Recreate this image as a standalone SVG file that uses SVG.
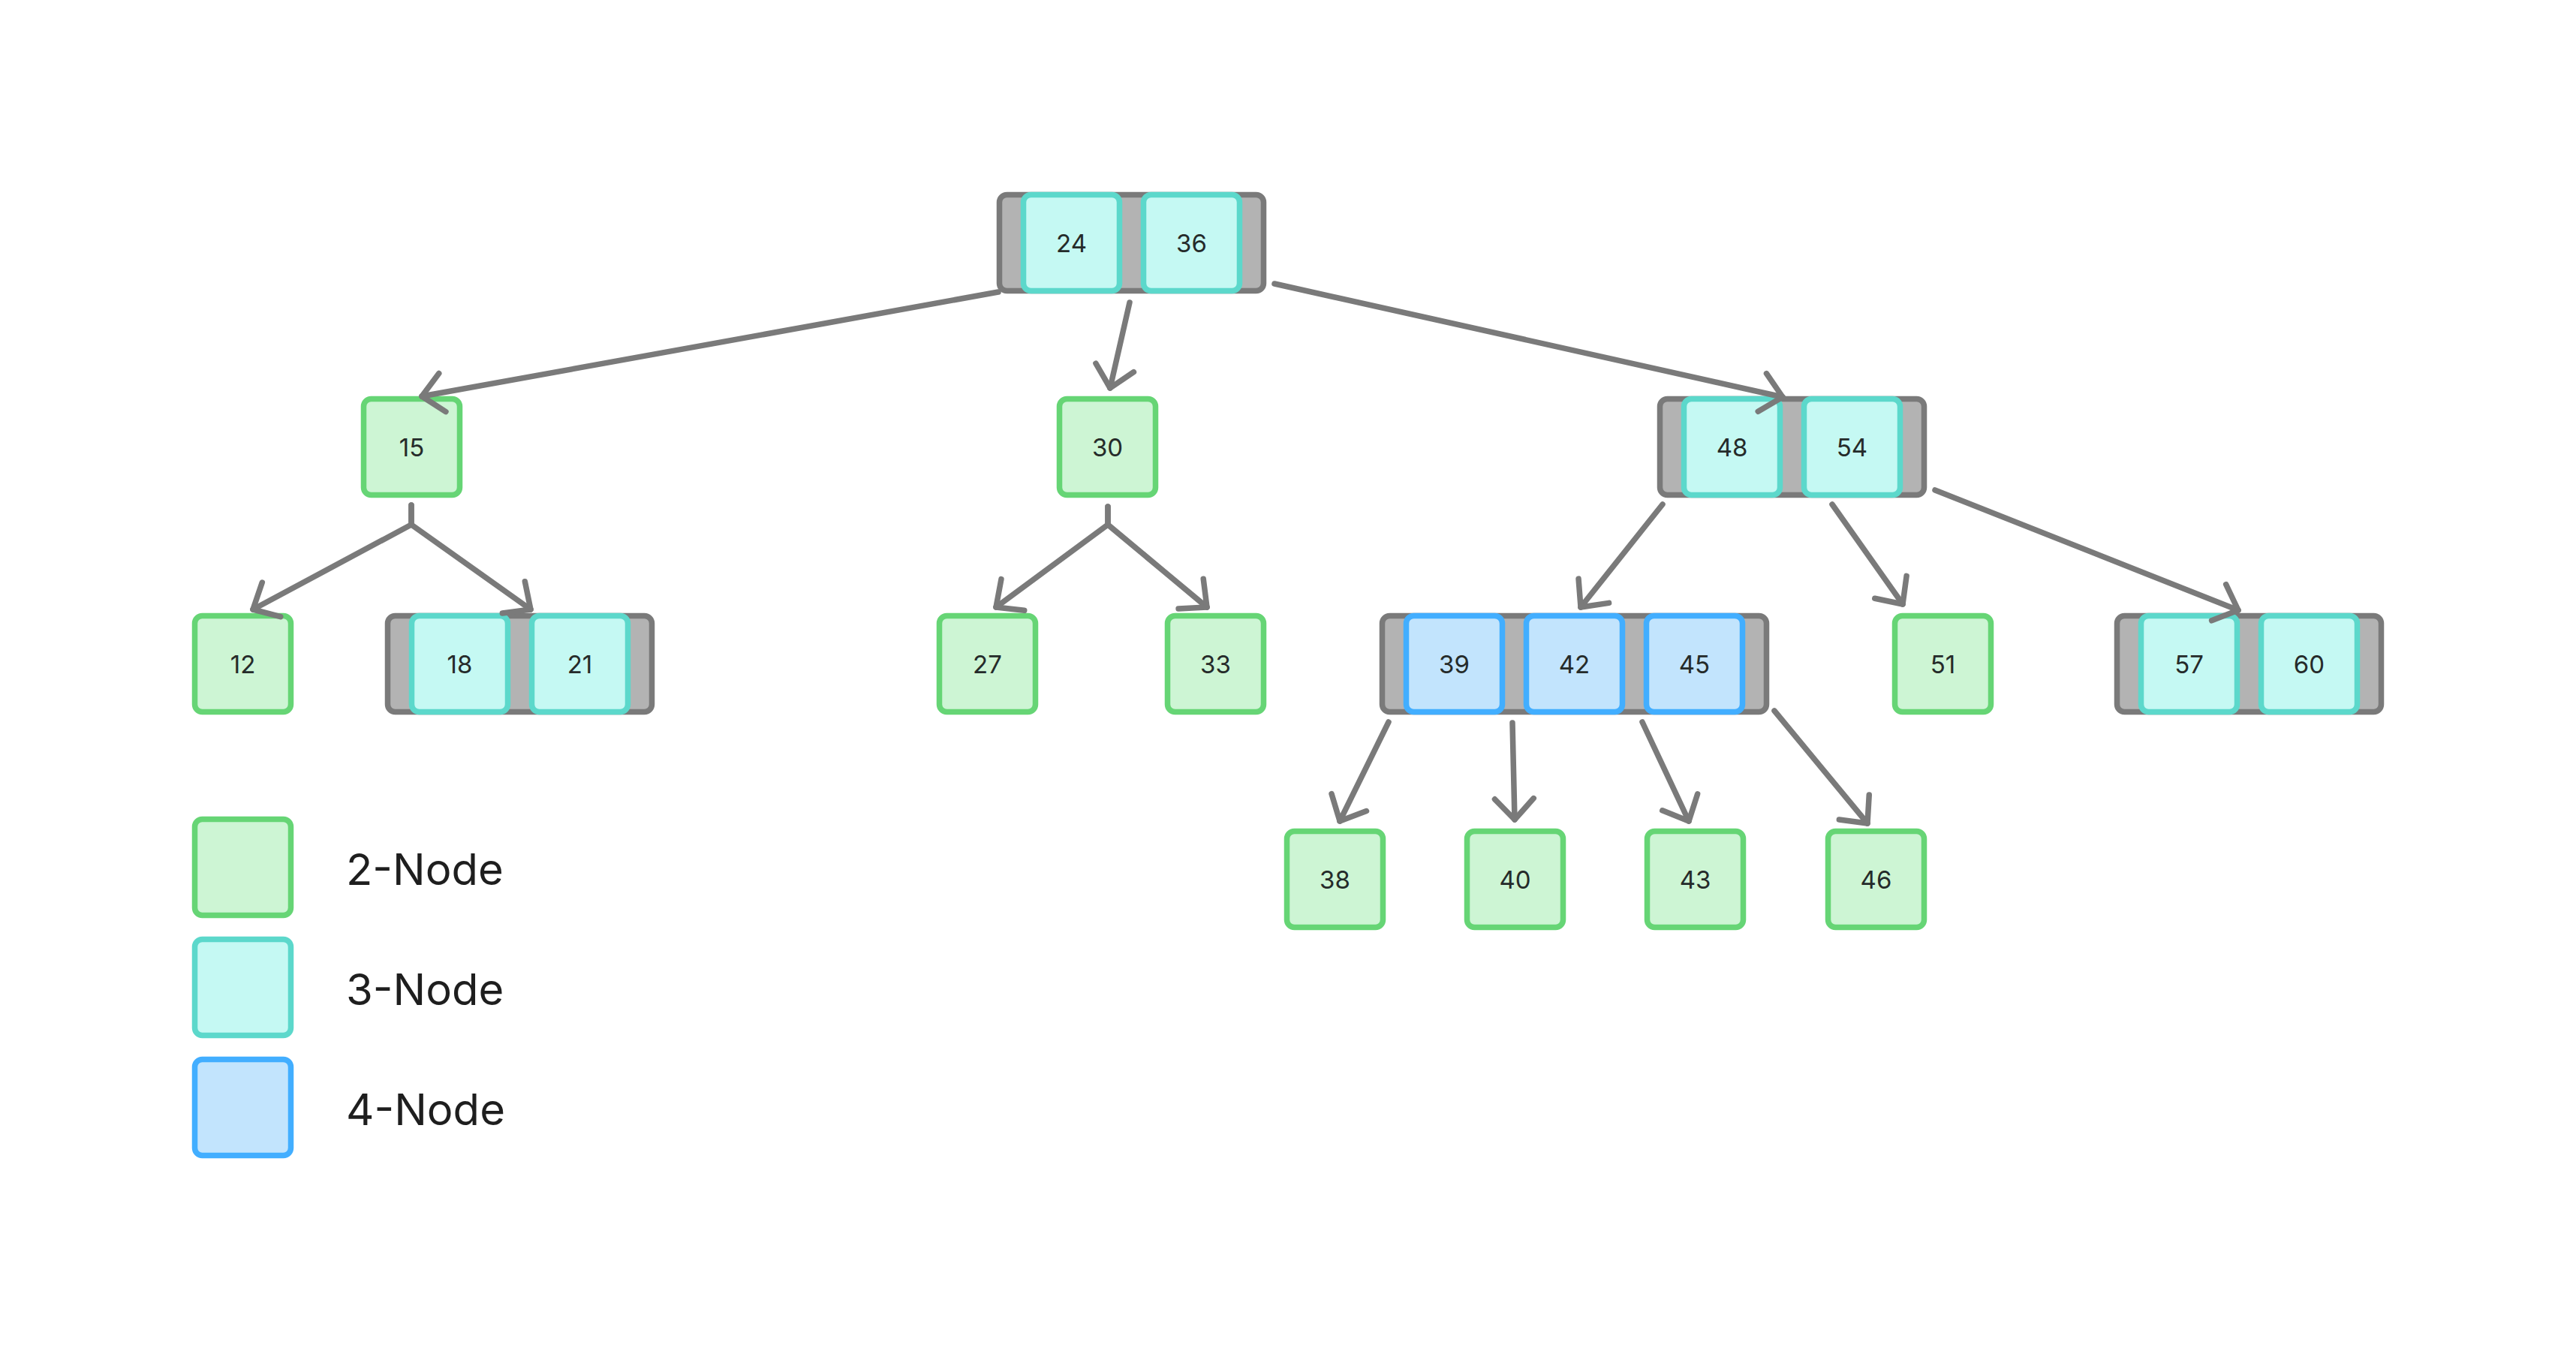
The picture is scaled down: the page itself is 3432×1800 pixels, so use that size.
<svg xmlns="http://www.w3.org/2000/svg" width="3432" height="1800" viewBox="0 0 3432 1800">
<defs>
<style>
.g2{fill:#cdf5d4;stroke:#66d575;stroke-width:7.5}
.g3{fill:#c5f9f3;stroke:#5cd8cb;stroke-width:7.5}
.g4{fill:#c2e4fd;stroke:#42aeff;stroke-width:7.5}
.grp{fill:#b3b3b3;stroke:#7a7a7a;stroke-width:7.5}
.num{font-family:Inter,"Noto Sans",sans-serif;font-size:33px;fill:#252b2a;text-anchor:middle}
.leg{font-family:Inter,"Noto Sans",sans-serif;font-size:58px;fill:#1e1e1e}
.edge{fill:none;stroke:#7a7a7a;stroke-width:7.5;stroke-linecap:round;stroke-linejoin:round}
</style>
<marker id="ah" markerUnits="userSpaceOnUse" orient="auto" overflow="visible" markerWidth="1" markerHeight="1" refX="0" refY="0">
<path d="M-27.8,-25.9 L0,0 L-27.8,25.9" fill="none" stroke="#7a7a7a" stroke-width="7.5" stroke-linecap="round" stroke-linejoin="round"/>
</marker>
</defs>
<rect width="3432" height="1800" fill="#ffffff"/>

<g id="node-24-36">
<rect class="grp" x="1331.5" y="259.5" width="352" height="128" rx="10"/>
<rect class="g3" x="1363.5" y="259.5" width="128" height="128" rx="10"/>
<rect class="g3" x="1523.5" y="259.5" width="128" height="128" rx="10"/>
<text class="num" x="1427.5" y="336">24</text>
<text class="num" x="1587.5" y="336">36</text>
</g>

<g id="node-15">
<rect class="g2" x="484.5" y="531.5" width="128" height="128" rx="10"/>
<text class="num" x="548.5" y="608">15</text>
</g>
<g id="node-30">
<rect class="g2" x="1411.5" y="531.5" width="128" height="128" rx="10"/>
<text class="num" x="1475.5" y="608">30</text>
</g>
<g id="node-48-54">
<rect class="grp" x="2211.5" y="531.5" width="352" height="128" rx="10"/>
<rect class="g3" x="2243.5" y="531.5" width="128" height="128" rx="10"/>
<rect class="g3" x="2403.5" y="531.5" width="128" height="128" rx="10"/>
<text class="num" x="2307.5" y="608">48</text>
<text class="num" x="2467.5" y="608">54</text>
</g>

<g id="node-12">
<rect class="g2" x="259.5" y="820.5" width="128" height="128" rx="10"/>
<text class="num" x="323.5" y="897">12</text>
</g>
<g id="node-18-21">
<rect class="grp" x="516.5" y="820.5" width="352" height="128" rx="10"/>
<rect class="g3" x="548.5" y="820.5" width="128" height="128" rx="10"/>
<rect class="g3" x="708.5" y="820.5" width="128" height="128" rx="10"/>
<text class="num" x="612.5" y="897">18</text>
<text class="num" x="772.5" y="897">21</text>
</g>
<g id="node-27">
<rect class="g2" x="1251.5" y="820.5" width="128" height="128" rx="10"/>
<text class="num" x="1315.5" y="897">27</text>
</g>
<g id="node-33">
<rect class="g2" x="1555.5" y="820.5" width="128" height="128" rx="10"/>
<text class="num" x="1619.5" y="897">33</text>
</g>
<g id="node-39-42-45">
<rect class="grp" x="1841.5" y="820.5" width="512" height="128" rx="10"/>
<rect class="g4" x="1873.5" y="820.5" width="128" height="128" rx="10"/>
<rect class="g4" x="2033.5" y="820.5" width="128" height="128" rx="10"/>
<rect class="g4" x="2193.5" y="820.5" width="128" height="128" rx="10"/>
<text class="num" x="1937.5" y="897">39</text>
<text class="num" x="2097.5" y="897">42</text>
<text class="num" x="2257.5" y="897">45</text>
</g>
<g id="node-51">
<rect class="g2" x="2524.5" y="820.5" width="128" height="128" rx="10"/>
<text class="num" x="2588.5" y="897">51</text>
</g>
<g id="node-57-60">
<rect class="grp" x="2820.5" y="820.5" width="352" height="128" rx="10"/>
<rect class="g3" x="2852.5" y="820.5" width="128" height="128" rx="10"/>
<rect class="g3" x="3012.5" y="820.5" width="128" height="128" rx="10"/>
<text class="num" x="2916.5" y="897">57</text>
<text class="num" x="3076.5" y="897">60</text>
</g>

<g id="node-38">
<rect class="g2" x="1714.5" y="1107.5" width="128" height="128" rx="10"/>
<text class="num" x="1778.5" y="1184">38</text>
</g>
<g id="node-40">
<rect class="g2" x="1954.5" y="1107.5" width="128" height="128" rx="10"/>
<text class="num" x="2018.5" y="1184">40</text>
</g>
<g id="node-43">
<rect class="g2" x="2194.5" y="1107.5" width="128" height="128" rx="10"/>
<text class="num" x="2258.5" y="1184">43</text>
</g>
<g id="node-46">
<rect class="g2" x="2435.5" y="1107.5" width="128" height="128" rx="10"/>
<text class="num" x="2499.5" y="1184">46</text>
</g>

<g id="legend">
<rect class="g2" x="259.5" y="1091.5" width="128" height="128" rx="10"/>
<text class="leg" x="461" y="1179">2-Node</text>
<rect class="g3" x="259.5" y="1251.5" width="128" height="128" rx="10"/>
<text class="leg" x="461" y="1339">3-Node</text>
<rect class="g4" x="259.5" y="1411.5" width="128" height="128" rx="10"/>
<text class="leg" x="461" y="1499">4-Node</text>
</g>

<g id="connectors">
<path class="edge" marker-end="url(#ah)" d="M1330,389 L562,528"/>
<path class="edge" marker-end="url(#ah)" d="M1505,403 L1479,517"/>
<path class="edge" marker-end="url(#ah)" d="M1698,378 L2375,529"/>
<path class="edge" marker-end="url(#ah)" d="M548,673 L548,699 L337,812"/>
<path class="edge" marker-end="url(#ah)" d="M548,673 L548,699 L707,812"/>
<path class="edge" marker-end="url(#ah)" d="M1476,675 L1476,699 L1327,809"/>
<path class="edge" marker-end="url(#ah)" d="M1476,675 L1476,699 L1608,809"/>
<path class="edge" marker-end="url(#ah)" d="M2215,672 L2106,809"/>
<path class="edge" marker-end="url(#ah)" d="M2441,672 L2535,805"/>
<path class="edge" marker-end="url(#ah)" d="M2578,653 L2982,813"/>
<path class="edge" marker-end="url(#ah)" d="M1850,962 L1785,1094"/>
<path class="edge" marker-end="url(#ah)" d="M2015,963 L2018,1092"/>
<path class="edge" marker-end="url(#ah)" d="M2188,962 L2250,1094"/>
<path class="edge" marker-end="url(#ah)" d="M2364,947 L2488,1097"/>
</g>
</svg>
